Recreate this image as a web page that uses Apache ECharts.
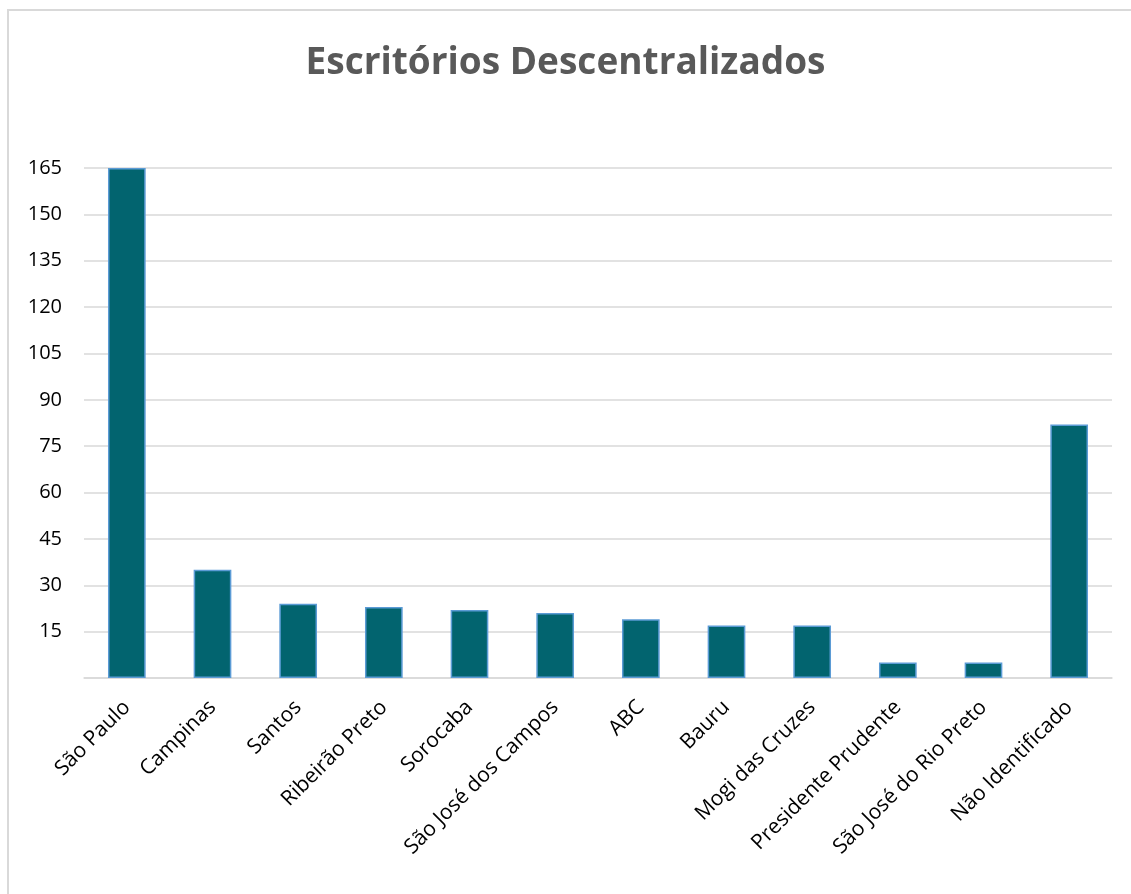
<!DOCTYPE html>
<html>
<head>
<meta charset="utf-8">
<style>
  html, body { margin: 0; padding: 0; background: #fff; }
  #chart { width: 1131px; height: 894px; }
</style>
<script src="https://cdn.jsdelivr.net/npm/echarts@6/dist/echarts.min.js"></script>
</head>
<body>
<div id="chart"></div>
<script>
// Offices and number of records per office
const categories = [
  'São Paulo', 'Campinas', 'Santos', 'Ribeirão Preto', 'Sorocaba',
  'São José dos Campos', 'ABC', 'Bauru', 'Mogi das Cruzes',
  'Presidente Prudente', 'São José do Rio Preto', 'Não Identificado'
];
const values = [165, 35, 24, 23, 22, 21, 19, 17, 17, 5, 5, 82];
const chartTitle = 'Escritórios Descentralizados';

const FONT = 'Open Sans';

const chart = echarts.init(document.getElementById('chart'), null, { renderer: 'canvas' });
chart.setOption({
  animation: false,
  backgroundColor: '#ffffff',
  title: {
    text: chartTitle,
    left: 'center',
    top: 40,
    textStyle: { fontFamily: FONT, fontSize: 37, fontWeight: 'bold', color: '#595959' }
  },
  graphic: [{
    type: 'rect',
    shape: { x: 8, y: 10, width: 1200, height: 1000 },
    style: { fill: 'none', stroke: '#d9d9d9', lineWidth: 2 },
    silent: true
  }],
  grid: { left: 84, right: 19, top: 168, bottom: 216, containLabel: false },
  xAxis: {
    type: 'category',
    data: categories,
    axisTick: { show: false },
    axisLine: { show: true, lineStyle: { color: '#d9d9d9', width: 1.5 } },
    axisLabel: {
      rotate: 45,
      margin: 26,
      fontFamily: FONT,
      fontSize: 21,
      color: '#000000',
      interval: 0
    }
  },
  yAxis: {
    type: 'value',
    min: 0,
    max: 165,
    interval: 15,
    axisLine: { show: false },
    axisTick: { show: false },
    splitLine: { lineStyle: { color: '#d9d9d9', width: 1.5 } },
    axisLabel: {
      margin: 22,
      fontFamily: FONT,
      fontSize: 20,
      color: '#000000',
      formatter: v => (v === 0 ? '' : String(v))
    }
  },
  series: [{
    type: 'bar',
    data: values,
    barWidth: '44%',
    itemStyle: { color: '#02646f', borderColor: '#5b9bd5', borderWidth: 1.5 }
  }]
});
</script>
</body>
</html>
